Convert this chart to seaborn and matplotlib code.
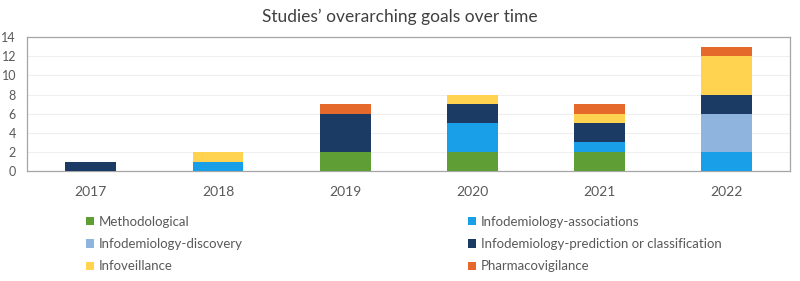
import numpy as np
import pandas as pd
import matplotlib
matplotlib.use("Agg")
import matplotlib.pyplot as plt
import seaborn as sns
from matplotlib.patches import Patch

years = ["2017", "2018", "2019", "2020", "2021", "2022"]
goals = [
    "Methodological",
    "Infodemiology-associations",
    "Infodemiology-discovery",
    "Infodemiology-prediction or classification",
    "Infoveillance",
    "Pharmacovigilance",
]
methodological = [0, 0, 2, 2, 2, 0]
associations = [0, 1, 0, 3, 1, 2]
discovery = [0, 0, 0, 0, 0, 4]
prediction = [1, 0, 4, 2, 2, 2]
infoveillance = [0, 1, 0, 1, 1, 4]
pharmacovigilance = [0, 0, 1, 0, 1, 1]
colors = ["#5f9e35", "#189fe8", "#8fb4de", "#1b3a64", "#ffd24f", "#e5692a"]

series = [methodological, associations, discovery, prediction, infoveillance, pharmacovigilance]
df = pd.DataFrame({g: v for g, v in zip(goals, series)}, index=years)

sns.set_style("white")
plt.rcParams["font.family"] = ["Lato", "DejaVu Sans"]
text_col = "#595959"

fig = plt.figure(figsize=(8, 2.81), dpi=100)
ax = fig.add_axes([0.034, 0.391, 0.954, 0.477])

# stacked bars, bottom to top in the order of goals
bottom = np.zeros(len(years))
for g, c in zip(goals, colors):
    sns.barplot(x=years, y=df[g].values, bottom=bottom, color=c, width=0.4,
                saturation=1, ax=ax, edgecolor="none", linewidth=0, zorder=3)
    bottom += df[g].values

ax.set_ylim(0, 14)
ax.set_yticks(range(0, 15, 2))
ax.set_xlim(-0.5, len(years) - 0.5)
ax.yaxis.grid(True, color="#efefef", linewidth=0.8, zorder=0)
ax.set_axisbelow(True)
for s in ax.spines.values():
    s.set_color("#a6a6a6")
    s.set_linewidth(0.9)
ax.tick_params(axis="both", length=0, colors=text_col)
ax.tick_params(axis="y", labelsize=9, pad=8)
ax.tick_params(axis="x", labelsize=10, pad=11)
ax.set_xlabel("")
ax.set_ylabel("")

fig.text(0.5, 0.94, "Studies\u2019 overarching goals over time", ha="center",
         va="center", fontsize=12.5, color="#404040")

# legend in two columns, row by row like the original
handles = [Patch(facecolor=c, edgecolor="none") for c in colors]
for col, x0 in [(0, 0.108), (1, 0.585)]:
    idx = [col, col + 2, col + 4]
    leg = fig.legend([handles[i] for i in idx], [goals[i] for i in idx],
                     loc="upper left", bbox_to_anchor=(x0, 0.232),
                     frameon=False, fontsize=9.5, handlelength=0.6,
                     handleheight=0.6, handletextpad=0.35, labelspacing=0.78,
                     borderaxespad=0, borderpad=0)
    for t in leg.get_texts():
        t.set_color(text_col)

fig.savefig("out.png", dpi=100)
